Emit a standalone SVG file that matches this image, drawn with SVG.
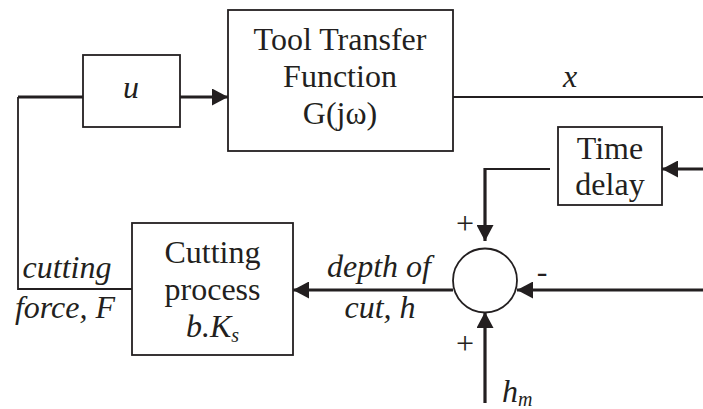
<svg xmlns="http://www.w3.org/2000/svg" width="703" height="409" viewBox="0 0 703 409">
<style>
.box{fill:#fff;stroke:#231f20;stroke-width:1.8}
.thick{fill:none;stroke:#231f20;stroke-width:3.2}
.thin{fill:none;stroke:#231f20;stroke-width:1.8}
text{font-family:"Liberation Serif","Times New Roman",serif;font-size:32px;fill:#231f20}
.c{text-anchor:middle}
.i{font-style:italic}
</style>
<defs>
<marker id="ah" markerUnits="userSpaceOnUse" markerWidth="17" markerHeight="17" refX="16" refY="8.5" orient="auto" viewBox="0 0 17 17">
<path d="M0,0 L16,8.5 L0,17 z" fill="#231f20"/>
</marker>
</defs>
<rect width="703" height="409" fill="#fff"/>
<g id="connectors">
<line class="thick" x1="18" y1="97" x2="83" y2="97"/>
<line class="thick" x1="180" y1="97" x2="228" y2="97" marker-end="url(#ah)"/>
<line class="thin" x1="453" y1="97" x2="703" y2="97"/>
<polyline class="thin" points="18,97 18,289 132,289"/>
<line class="thick" x1="703" y1="169" x2="662" y2="169" marker-end="url(#ah)"/>
<line class="thin" x1="550" y1="169" x2="485" y2="169"/>
<line class="thick" x1="485" y1="168" x2="485" y2="241" marker-end="url(#ah)"/>
<line class="thick" x1="703" y1="290" x2="517" y2="290" marker-end="url(#ah)"/>
<line class="thick" x1="453" y1="290" x2="293" y2="290" marker-end="url(#ah)"/>
<line class="thick" x1="485" y1="403" x2="485" y2="312" marker-end="url(#ah)"/>
</g>
<g id="u-block">
<rect class="box" x="83" y="55" width="97" height="72"/>
<text class="c i" x="131" y="98">u</text>
</g>
<g id="tool-transfer">
<rect class="box" x="228" y="10" width="225" height="141"/>
<text class="c" x="340" y="50">Tool Transfer</text>
<text class="c" x="340" y="87">Function</text>
<text class="c" x="340" y="124">G(jω)</text>
</g>
<g id="time-delay">
<rect class="box" x="558" y="127" width="104" height="78"/>
<text class="c" x="610" y="159">Time</text>
<text class="c" x="610" y="195">delay</text>
</g>
<g id="summing-junction">
<circle cx="485" cy="280.5" r="32" fill="#fff" stroke="#231f20" stroke-width="1.8"/>
<text class="c" x="465" y="234">+</text>
<text class="c" x="465" y="354">+</text>
<text class="c" x="542" y="282">-</text>
</g>
<g id="cutting-process">
<rect class="box" x="132" y="223" width="161" height="132"/>
<text class="c" x="212.5" y="263">Cutting</text>
<text class="c" x="212.5" y="300">process</text>
<text class="c i" x="212.5" y="337">b.K<tspan font-size="20" dy="5">s</tspan></text>
</g>
<g id="labels">
<text class="c i" x="570" y="87">x</text>
<text class="c i" x="67" y="278">cutting</text>
<text class="c i" x="65" y="318">force, F</text>
<text class="c i" x="379" y="277">depth of</text>
<text class="c i" x="380" y="318">cut, h</text>
<text class="i" x="502" y="402">h<tspan font-size="20" dy="4">m</tspan></text>
</g>
</svg>
